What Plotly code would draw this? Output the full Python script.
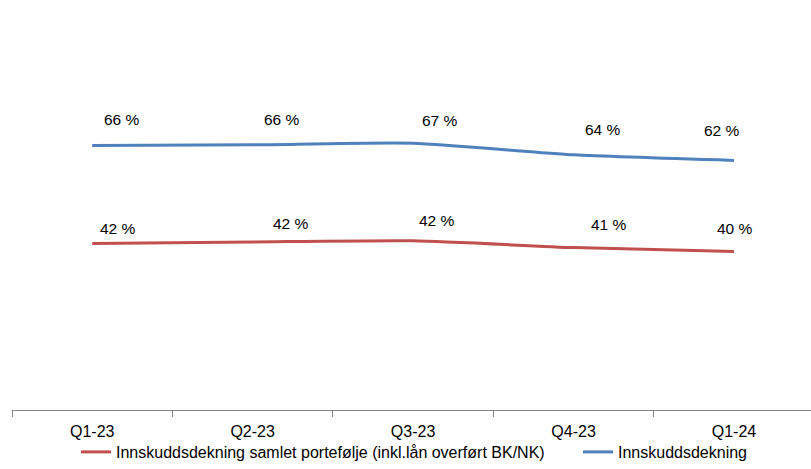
import plotly.graph_objects as go

categories = ["Q1-23", "Q2-23", "Q3-23", "Q4-23", "Q1-24"]
samlet = [41.6, 42.0, 42.3, 40.6, 39.6]
innskudd = [66.1, 66.3, 66.7, 63.8, 62.4]
name_samlet = "Innskuddsdekning samlet portefølje (inkl.lån overført BK/NK)"
name_innskudd = "Innskuddsdekning"

# label offsets (pixels) replicating manual label placement
samlet_shift = [(26, 15), (38, 19), (24, 20), (35, 23), (1, 23)]
innskudd_shift = [(30, 26), (29, 25), (27, 23), (29, 25), (-12, 30)]

FONT = "Liberation Sans, Arial, sans-serif"
RED = "#C0504D"
BLUE = "#4F81BD"

fig = go.Figure()
fig.add_trace(go.Scatter(x=categories, y=samlet, mode="lines", name=name_samlet,
                         line=dict(color=RED, width=3, shape="spline", smoothing=0.6),
                         legend="legend"))
fig.add_trace(go.Scatter(x=categories, y=innskudd, mode="lines", name=name_innskudd,
                         line=dict(color=BLUE, width=3, shape="spline", smoothing=0.6),
                         legend="legend2"))

for vals, shifts in ((samlet, samlet_shift), (innskudd, innskudd_shift)):
    for c, v, (dx, dy) in zip(categories, vals, shifts):
        fig.add_annotation(x=c, y=v, text=f"{v:.0f} %", showarrow=False,
                           xshift=dx, yshift=dy,
                           font=dict(family=FONT, size=15.5, color="#000000"))

leg_common = dict(orientation="h", y=-0.105, yanchor="middle",
                  font=dict(family=FONT, size=16, color="#000000"),
                  itemwidth=30, bgcolor="rgba(0,0,0,0)")

fig.update_layout(
    width=811, height=469,
    margin=dict(l=12, r=0, t=10, b=59),
    paper_bgcolor="white", plot_bgcolor="white",
    font=dict(family=FONT, size=16, color="#000000"),
    showlegend=True,
    legend=dict(x=(76 - 12) / 799, xanchor="left", **leg_common),
    legend2=dict(x=(578 - 12) / 799, xanchor="left", **leg_common),
    xaxis=dict(type="category", range=[-0.5, 4.48], showgrid=False, zeroline=False,
               showline=True, linecolor="#868686", linewidth=1,
               ticks="outside", ticklen=6, tickcolor="#868686", tickson="boundaries",
               ticklabelstandoff=7,
               tickfont=dict(family=FONT, size=16, color="#000000")),
    yaxis=dict(range=[0, 100], visible=False, showgrid=False, zeroline=False),
)

fig.write_html("out.html")
